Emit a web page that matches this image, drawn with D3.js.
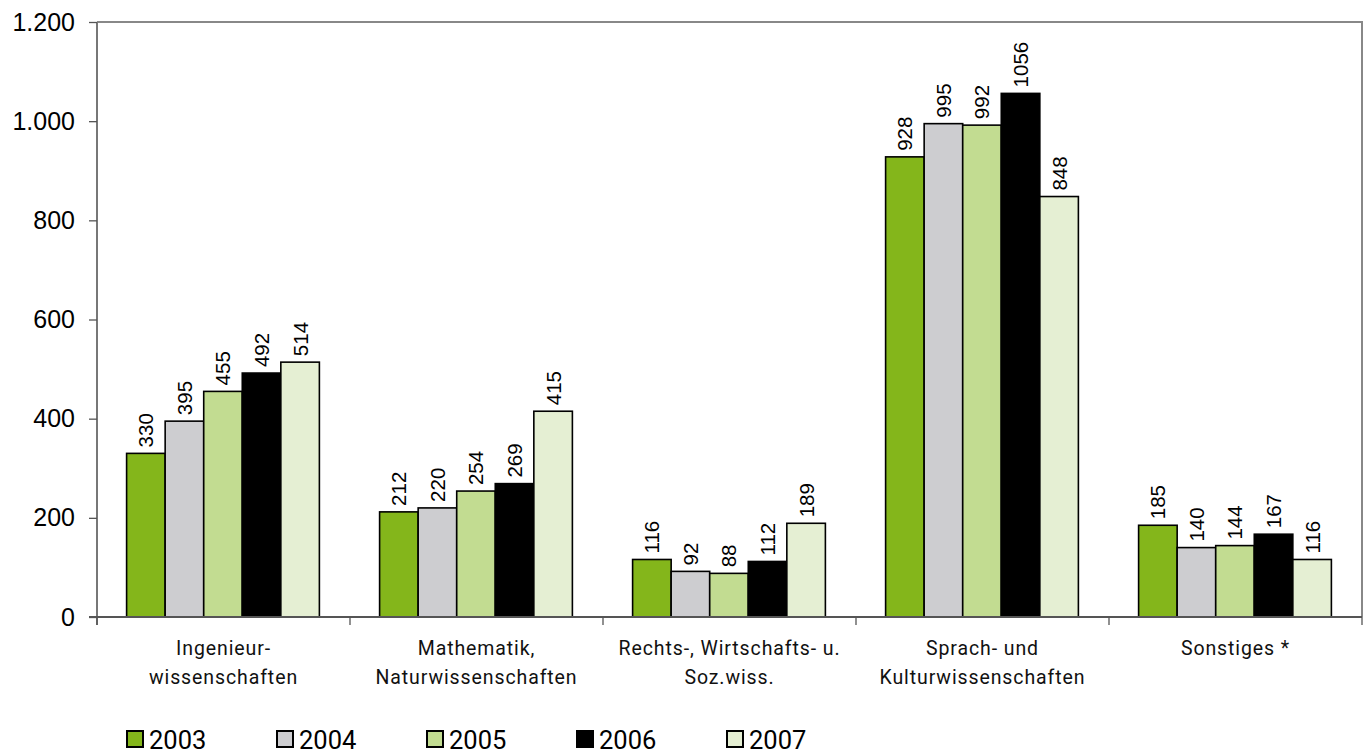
<!DOCTYPE html>
<html><head><meta charset="utf-8">
<script src="https://cdn.jsdelivr.net/npm/d3@7"></script>
<style>body{margin:0;background:#fff}svg{display:block}</style>
</head><body>
<svg id="c" width="1365" height="754"></svg>
<script>
const categories = [["Ingenieur-","wissenschaften"],["Mathematik,","Naturwissenschaften"],["Rechts-, Wirtschafts- u.","Soz.wiss."],["Sprach- und","Kulturwissenschaften"],["Sonstiges *"]];
const years = ["2003","2004","2005","2006","2007"];
const v2003 = [330,212,116,928,185];
const v2004 = [395,220,92,995,140];
const v2005 = [455,254,88,992,144];
const v2006 = [492,269,112,1056,167];
const v2007 = [514,415,189,848,116];
const yTicks = [0,200,400,600,800,1000,1200];
const colors = ["#84b61b","#cdcdd0","#c2dc91","#000000","#e5efd3"];
const series = [v2003,v2004,v2005,v2006,v2007];

const svg = d3.select("#c");
const L=97,R=1362,T=22,B=617;
const x0 = d3.scaleBand().domain(d3.range(categories.length)).range([L,R]);
const bw = x0.bandwidth();
const x1 = d3.scaleBand().domain(years).range([bw*0.117, bw*0.879]);
const y = d3.scaleLinear().domain([0,1200]).range([B,T]);
const fmt = d => d3.format(",")(d).replace(/,/g,".");

svg.append("path").attr("d",`M${L},${T}H${R}V${B}`).attr("fill","none").attr("stroke","#888").attr("stroke-width",2);

const g = svg.append("g");
categories.forEach((c,i)=>{
  years.forEach((yr,j)=>{
    const val = series[j][i];
    const bx = x0(i)+x1(yr);
    g.append("rect").attr("x",bx).attr("y",y(val)).attr("width",x1.bandwidth()).attr("height",B-y(val))
      .attr("fill",colors[j]).attr("stroke","#000").attr("stroke-width",1.6);
    g.append("text").attr("transform",`translate(${bx+x1.bandwidth()/2+7.5},${y(val)-6}) rotate(-90)`)
      .attr("font-family","Liberation Sans, Arial, sans-serif").attr("font-size",20.5).attr("fill","#000")
      .text(val);
  });
});

const ya = svg.append("g").attr("transform",`translate(${L},0)`)
  .call(d3.axisLeft(y).tickValues(yTicks).tickFormat(fmt).tickSize(8).tickPadding(14));
ya.select(".domain").attr("stroke","#777").attr("stroke-width",2).attr("d",`M0,${T}V${B+8}`);
ya.selectAll(".tick line").attr("stroke","#555").attr("stroke-width",1.3);
ya.selectAll("text").attr("font-family","Liberation Sans, Arial, sans-serif").attr("font-size",25).attr("fill","#000");

svg.append("line").attr("x1",L-8).attr("x2",R).attr("y1",B).attr("y2",B).attr("stroke","#555").attr("stroke-width",2);
d3.range(categories.length+1).forEach(i=>{
  const xx = L+i*bw;
  svg.append("line").attr("x1",xx).attr("x2",xx).attr("y1",B).attr("y2",B+8).attr("stroke","#555").attr("stroke-width",1.3);
});
categories.forEach((c,i)=>{
  const t = svg.append("text").attr("text-anchor","middle").attr("font-family","Roboto, sans-serif")
    .attr("font-size",19.5).attr("letter-spacing",0.9).attr("fill","#111");
  c.forEach((line,k)=>{
    t.append("tspan").attr("x",x0(i)+bw/2).attr("y",655+k*29).text(line);
  });
});

years.forEach((yr,j)=>{
  const lx = 127+j*150;
  svg.append("rect").attr("x",lx).attr("y",731).attr("width",16).attr("height",16)
    .attr("fill",colors[j]).attr("stroke","#000").attr("stroke-width",2);
  svg.append("text").attr("x",lx+22).attr("y",749).attr("font-family","Roboto, sans-serif")
    .attr("font-size",25.5).attr("fill","#000").text(yr);
});
</script>
</body></html>
